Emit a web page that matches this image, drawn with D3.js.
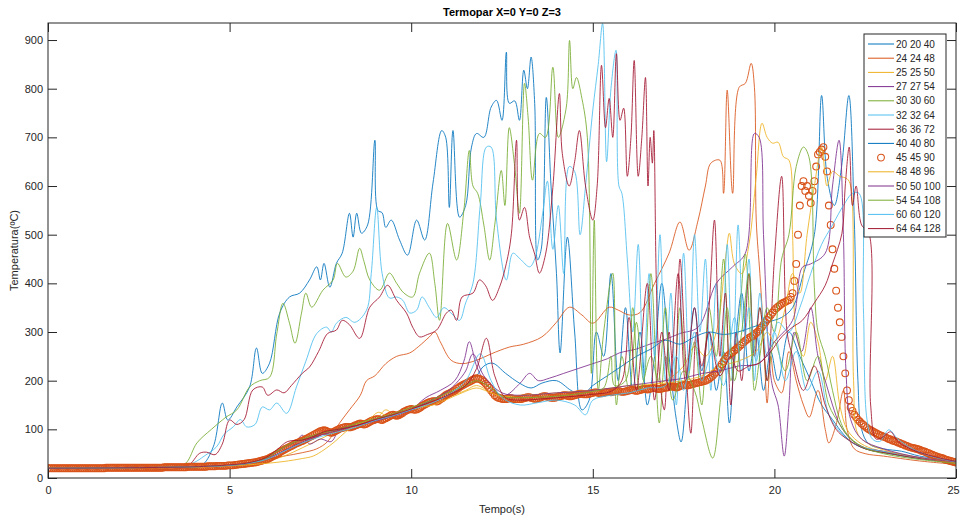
<!DOCTYPE html>
<html>
<head>
<meta charset="utf-8">
<script src="https://cdn.jsdelivr.net/npm/d3@7"></script>
<style>
  body { margin: 0; background: #fff; }
  svg { font-family: "Liberation Sans", Arial, sans-serif; }
</style>
</head>
<body>
<svg id="chart"></svg>
<script>
// legend names, in plotting order
const seriesNames = ["20 20 40", "24 24 48", "25 25 50", "27 27 54", "30 30 60", "32 32 64", "36 36 72",
  "40 40 80", "45 45 90", "48 48 96", "50 50 100", "54 54 108", "60 60 120", "64 64 128"];
const seriesColors = ["#0072BD", "#D95319", "#EDB120", "#7E2F8E", "#77AC30", "#4DBEEE", "#A2142F",
  "#0072BD", "#D95319", "#EDB120", "#7E2F8E", "#77AC30", "#4DBEEE", "#A2142F"];

const xTicks = [0, 5, 10, 15, 20, 25];
const yTicks = [0, 100, 200, 300, 400, 500, 600, 700, 800, 900];

// [tempo (s), temperatura (C)]
const s20 = [[0,20],[2,21],[3.5,22],[4.2,24],[4.55,64],[4.8,154],[4.95,119],[5.2,146],[5.55,187],[5.74,267],[5.9,215],[6.1,236],[6.38,339],[6.65,372],[6.93,380],[7.2,407],[7.4,434],[7.5,407],[7.6,441],[7.76,392],[7.94,441],[8.1,462],[8.3,544],[8.4,495],[8.5,544],[8.63,503],[8.8,520],[9.0,694],[9.08,550],[9.2,545],[9.3,515],[9.45,530],[9.68,489],[9.9,458],[10.15,530],[10.37,489],[10.6,606],[10.84,714],[10.95,700],[11.05,556],[11.15,714],[11.33,536],[11.5,560],[11.66,680],[11.8,708],[12.0,700],[12.2,762],[12.35,776],[12.5,735],[12.62,875],[12.7,770],[12.85,775],[12.98,735],[13.1,838],[13.2,800],[13.3,865],[13.4,770],[13.48,448],[13.58,470],[13.72,782],[13.85,600],[14.0,420],[14.1,257],[14.3,495],[14.5,300],[14.7,140],[14.9,160],[15.1,300],[15.3,250],[15.5,420],[15.7,200],[15.9,350],[16.1,180],[16.3,300],[16.5,150],[16.7,250],[16.9,400],[17.1,250],[17.3,120],[17.43,74],[17.6,200],[17.8,350],[18.0,220],[18.2,300],[18.4,180],[18.6,260],[18.76,113],[18.9,250],[19.1,380],[19.3,220],[19.5,300],[19.7,180],[19.9,260],[20.1,200],[20.4,300],[20.7,250],[21.0,200],[21.3,150],[21.6,120],[21.9,90],[22.2,70],[22.6,58],[23,52],[24,40],[25,32]];

const s24 = [[0,20],[2,21],[4,23],[5,26],[6,38],[6.5,45],[7,52],[7.4,60],[7.7,75],[8,110],[8.3,140],[8.6,170],[8.77,200],[9,210],[9.3,235],[9.6,250],[9.96,257],[10.2,270],[10.5,290],[10.65,300],[10.8,280],[11.1,242],[11.4,235],[11.8,242],[12.2,255],[12.7,269],[13.1,275],[13.6,290],[14.0,320],[14.36,351],[14.7,335],[15.0,318],[15.45,351],[15.7,345],[16.0,335],[16.3,340],[16.7,400],[17.1,462],[17.4,526],[17.65,468],[17.9,530],[18.1,600],[18.25,647],[18.5,653],[18.6,585],[18.7,797],[18.85,585],[19.03,803],[19.2,811],[19.36,852],[19.45,803],[19.5,530],[19.6,420],[19.7,300],[19.8,154],[19.9,250],[20.0,200],[20.2,175],[20.4,260],[20.6,200],[20.8,150],[20.96,125],[21.2,180],[21.4,100],[21.5,72],[21.7,110],[21.9,180],[22.0,100],[22.2,60],[22.5,50],[23,45],[24,35],[25,28]];

const s25 = [[0,20],[2,21],[4,23],[5,26],[5.5,29],[6,34],[6.5,45],[7,62],[7.5,80],[8,98],[8.5,112],[9,118],[9.3,140],[9.6,126],[10,140],[10.5,150],[11,165],[11.5,180],[11.8,190],[12.2,175],[12.6,160],[13,158],[13.5,162],[14,170],[14.5,168],[15,172],[15.5,180],[16,185],[16.5,190],[17,200],[17.5,230],[17.8,270],[18.1,250],[18.4,300],[18.67,462],[18.76,503],[18.9,440],[19.1,420],[19.3,480],[19.5,620],[19.66,729],[19.8,700],[19.95,688],[20.1,690],[20.25,660],[20.4,653],[20.5,500],[20.6,300],[20.8,250],[21.0,320],[21.2,280],[21.4,200],[21.6,250],[21.8,150],[22.0,100],[22.3,75],[22.7,60],[23.5,48],[24.5,35],[25,30]];

const s27 = [[0,20],[2,21],[4,23],[5,26],[5.5,29],[6,36],[6.5,52],[6.8,70],[7,88],[7.2,70],[7.5,80],[7.8,75],[8.1,110],[8.4,100],[8.7,115],[9,112],[9.3,128],[9.6,125],[10,140],[10.4,165],[10.8,180],[11.2,200],[11.45,240],[11.6,280],[11.8,230],[12.0,200],[12.3,175],[12.6,170],[13.0,195],[13.26,215],[13.5,200],[13.8,205],[14.2,215],[14.6,225],[15.0,235],[15.4,245],[15.73,257],[16.2,265],[16.64,277],[17.0,285],[17.4,297],[17.9,310],[18.4,400],[18.85,434],[19.2,462],[19.45,708],[19.58,700],[19.7,500],[19.85,250],[19.95,187],[20.1,150],[20.27,45],[20.4,150],[20.55,300],[20.75,260],[21.0,350],[21.2,250],[21.4,200],[21.6,150],[21.8,110],[22.1,80],[22.5,62],[23,55],[24,42],[25,34]];

const s30 = [[0,20],[2,21],[3.5,23],[3.8,31],[4.1,72],[4.5,100],[4.9,125],[5.2,140],[5.55,187],[5.83,200],[6.1,207],[6.3,297],[6.47,359],[6.65,318],[6.8,277],[6.98,339],[7.1,380],[7.26,351],[7.57,386],[7.85,407],[7.97,441],[8.2,413],[8.4,425],[8.58,472],[8.7,445],[8.86,407],[9.13,386],[9.4,421],[9.6,400],[9.8,380],[10.04,372],[10.23,421],[10.5,462],[10.65,400],[10.78,324],[11.0,523],[11.25,448],[11.45,550],[11.6,673],[11.7,600],[11.83,585],[12.0,520],[12.16,448],[12.3,520],[12.48,632],[12.58,560],[12.7,720],[12.85,640],[12.98,544],[13.12,811],[13.22,740],[13.34,612],[13.53,708],[13.7,700],[13.9,844],[14.05,700],[14.27,762],[14.36,899],[14.45,800],[14.55,823],[14.7,780],[14.85,700],[14.96,215],[15.04,530],[15.15,180],[15.3,300],[15.55,421],[15.65,150],[15.8,250],[16.0,180],[16.2,320],[16.4,200],[16.6,420],[16.83,113],[17.0,250],[17.2,180],[17.4,350],[17.6,200],[17.8,280],[18.0,150],[18.2,350],[18.4,250],[18.6,450],[18.8,200],[19.0,300],[19.2,460],[19.4,250],[19.6,350],[19.8,200],[20.0,280],[20.3,220],[20.6,300],[20.9,200],[21.2,250],[21.5,150],[21.8,110],[22.1,80],[22.5,60],[23.2,50],[24,40],[25,32]];

const s32 = [[0,20],[2,21],[3.5,22],[4.0,31],[4.3,45],[4.64,64],[4.85,90],[5.1,105],[5.3,120],[5.47,105],[5.7,110],[5.9,146],[6.1,140],[6.3,154],[6.57,133],[6.84,187],[7.1,240],[7.4,297],[7.67,310],[7.8,300],[7.94,318],[8.2,330],[8.45,320],[8.77,345],[8.9,420],[9.05,556],[9.2,420],[9.4,370],[9.6,372],[9.77,365],[9.96,339],[10.15,345],[10.3,372],[10.5,350],[10.7,330],[10.9,350],[11.15,335],[11.33,324],[11.5,360],[11.7,400],[11.9,560],[12.07,680],[12.2,680],[12.35,530],[12.62,407],[12.8,462],[13.0,450],[13.26,434],[13.4,450],[13.62,544],[13.75,610],[13.9,470],[14.05,560],[14.2,420],[14.35,640],[14.5,630],[14.65,500],[14.8,600],[15.0,756],[15.15,850],[15.27,934],[15.38,650],[15.5,800],[15.64,879],[15.72,600],[15.8,585],[15.95,450],[16.1,300],[16.25,480],[16.4,200],[16.55,420],[16.7,250],[16.85,500],[17.0,200],[17.15,380],[17.3,150],[17.5,462],[17.65,220],[17.8,500],[17.95,300],[18.1,450],[18.25,180],[18.4,400],[18.55,250],[18.7,480],[18.85,200],[19.0,520],[19.15,300],[19.3,450],[19.45,200],[19.6,380],[19.8,250],[20.0,300],[20.3,200],[20.6,260],[20.9,180],[21.2,220],[21.5,130],[21.8,95],[22.2,70],[22.6,60],[23.2,52],[24,40],[25,30]];

const s36 = [[0,20],[2,21],[3.8,23],[4.18,51],[4.37,53],[4.6,48],[4.8,70],[5.0,119],[5.2,110],[5.4,120],[5.64,181],[5.9,187],[6.05,170],[6.3,181],[6.5,175],[6.7,190],[7.0,215],[7.2,228],[7.45,260],[7.7,297],[7.94,304],[8.1,324],[8.3,315],[8.58,287],[8.86,351],[9.13,372],[9.35,396],[9.6,365],[9.87,339],[10.04,310],[10.23,290],[10.45,295],[10.7,304],[10.97,339],[11.1,345],[11.25,324],[11.4,372],[11.7,380],[11.88,407],[12.05,395],[12.24,365],[12.43,392],[12.62,441],[12.76,503],[12.9,694],[12.98,530],[13.12,556],[13.26,495],[13.4,460],[13.53,421],[13.7,460],[13.9,597],[14.08,790],[14.16,667],[14.35,600],[14.5,650],[14.63,714],[14.8,600],[15.0,530],[15.12,600],[15.24,848],[15.35,720],[15.45,780],[15.55,700],[15.65,872],[15.75,735],[15.85,760],[15.95,620],[16.05,700],[16.14,858],[16.25,620],[16.35,700],[16.45,823],[16.52,600],[16.58,700],[16.64,647],[16.68,714],[16.75,400],[16.85,200],[16.97,140],[17.1,300],[17.25,180],[17.4,450],[17.55,250],[17.7,92],[17.85,300],[18.0,200],[18.2,350],[18.35,530],[18.5,250],[18.65,380],[18.8,150],[18.95,300],[19.1,200],[19.3,420],[19.45,250],[19.6,350],[19.8,200],[20.0,450],[20.2,620],[20.35,300],[20.5,250],[20.8,180],[21.1,230],[21.4,150],[21.7,100],[22.0,80],[22.5,60],[23.2,50],[24,40],[25,32]];

const s40 = [[0,20],[2,21],[2.5,25],[3,22],[4,23],[5,26],[5.5,30],[6,40],[6.4,58],[6.7,70],[7,78],[7.5,90],[8,102],[8.5,110],[9,118],[9.5,128],[10,140],[10.5,155],[11,168],[11.5,190],[11.8,210],[12,230],[12.24,236],[12.6,215],[12.98,195],[13.3,185],[13.6,195],[14,200],[14.4,180],[14.7,170],[15,190],[15.4,210],[15.8,230],[16.2,250],[16.6,265],[17,283],[17.4,275],[17.8,290],[18.2,300],[18.6,295],[19,300],[19.4,310],[19.8,320],[20.2,330],[20.5,350],[20.8,420],[21.1,500],[21.3,786],[21.45,620],[21.65,560],[21.85,640],[22.05,786],[22.2,530],[22.3,200],[22.4,100],[22.6,70],[23,60],[23.5,55],[24,45],[25,35]];

// 45 45 90: sampled every 0.05 s from t = 0 (one row per second)
const circleStep = 0.05;
const s45 = [
  20,20,20,20,20,20,20,20,20,20,20,20,20,20,20,20,20,20,20,20,
  20,20,20,20,20,20,20,20,20,20,20,20,21,21,21,21,21,21,21,21,
  21,21,21,21,21,21,21,21,21,21,21,21,21,21,21,21,21,21,21,21,
  21,21,21,21,22,22,22,22,22,22,22,22,22,22,22,22,22,23,23,23,
  23,23,23,23,23,23,23,23,24,24,24,24,24,25,25,25,25,25,25,26,
  26,26,26,27,27,28,28,29,29,30,30,31,31,32,32,33,34,35,36,37,
  38,39,41,43,45,47,49,51,54,56,58,60,62,64,66,68,70,72,73,75,
  76,78,80,82,84,86,88,90,92,94,96,97,98,97,95,94,93,94,96,98,
  100,102,103,104,105,105,104,105,106,108,109,111,112,111,110,111,113,115,117,119,
  120,121,121,120,119,121,123,125,127,129,130,129,128,129,131,133,136,138,140,141,
  142,141,140,141,143,145,148,150,152,154,156,157,158,158,157,159,162,164,167,170,
  172,174,176,178,180,183,185,188,190,192,194,196,198,200,202,204,205,204,203,201,
  198,194,190,185,180,175,170,167,165,164,163,162,162,163,164,164,163,162,162,162,
  162,163,164,165,166,166,165,164,163,163,164,165,167,168,168,167,166,165,165,165,
  166,167,168,169,170,170,169,168,168,169,170,171,172,173,173,172,172,172,173,174,
  175,176,176,175,174,174,175,176,177,177,176,177,178,179,179,178,177,177,178,179,
  180,181,181,180,179,180,181,182,183,183,182,183,184,185,185,184,183,183,184,185,
  186,186,187,188,188,187,186,187,189,190,191,191,190,191,192,193,194,195,196,197,
  198,199,200,202,204,207,210,214,218,223,228,234,240,245,250,253,256,259,262,265,
  268,272,275,279,282,285,288,290,292,295,298,301,305,310,315,320,325,330,335,340,
  345,349,352,355,358,360,362,364,366,372,380,405,440,500,560,600,610,590,600,580,
  565,590,610,640,665,670,675,680,660,630,560,520,470,430,385,350,320,290,250,215,
  180,160,145,138,130,125,120,116,112,109,106,103,100,98,96,94,92,90,88,87,
  85,84,82,80,79,77,76,75,73,72,70,69,67,66,64,63,62,61,60,59,
  58,56,55,54,52,51,49,48,46,45,43,42,41,40,38,37,36,35,34,33,
  32];

const s48 = [[0,20],[2,21],[4,22],[5,25],[5.5,27],[6,30],[6.5,34],[7,40],[7.3,45],[7.6,58],[7.9,75],[8.2,95],[8.5,110],[8.8,118],[9.1,135],[9.4,125],[9.8,138],[10.2,145],[10.6,150],[11,162],[11.4,175],[11.8,185],[12.1,178],[12.5,168],[13,170],[13.5,172],[14,175],[14.5,178],[15,180],[15.5,185],[16,190],[16.5,192],[17,195],[17.5,200],[18,210],[18.5,230],[19,240],[19.5,260],[19.8,300],[20.0,280],[20.3,350],[20.5,420],[20.7,380],[20.9,500],[21.1,600],[21.3,680],[21.45,600],[21.6,630],[21.8,620],[22.0,615],[22.1,600],[22.18,200],[22.3,90],[22.6,70],[23,58],[24,42],[25,32]];

const s50 = [[0,20],[2,21],[4,23],[5,26],[5.5,30],[6,39],[6.5,56],[7,74],[7.5,88],[8,98],[8.5,108],[9,117],[9.5,127],[10,140],[10.5,158],[11,178],[11.3,200],[11.5,220],[11.7,255],[12,210],[12.5,175],[13,170],[14,175],[15,180],[16,190],[17,200],[17.5,205],[18,215],[18.5,220],[19,230],[19.58,236],[20,280],[20.5,324],[20.77,433],[21.0,440],[21.4,462],[21.6,600],[21.78,694],[21.9,500],[21.97,222],[22.1,120],[22.4,80],[23,60],[24,42],[25,33]];

const s54 = [[0,20],[2,21],[4,23],[5,26],[5.5,30],[6,40],[6.3,55],[6.6,68],[7,80],[7.5,92],[8,100],[8.5,112],[9,122],[9.5,132],[10,145],[10.5,158],[11,175],[11.5,190],[11.8,200],[12.1,190],[12.5,168],[13,165],[13.5,166],[14,168],[14.5,172],[15,178],[15.3,185],[15.5,250],[15.6,190],[15.9,200],[16.1,350],[16.3,180],[16.6,250],[16.8,200],[17.0,350],[17.2,160],[17.5,220],[17.8,180],[18.0,120],[18.3,41],[18.5,150],[18.7,350],[18.9,200],[19.1,300],[19.3,420],[19.45,180],[19.6,250],[19.8,350],[20.0,300],[20.2,450],[20.4,500],[20.6,640],[20.8,680],[20.95,660],[21.1,392],[21.2,300],[21.4,250],[21.6,180],[21.8,120],[22.0,90],[22.4,65],[23,50],[24,38],[25,30]];

const s60 = [[0,20],[2,21],[4,23],[5,26],[5.5,30],[6,38],[6.5,55],[7,72],[7.5,85],[8,95],[8.5,105],[9,118],[9.5,128],[10,140],[10.5,152],[11,170],[11.5,200],[11.9,255],[12.2,200],[12.5,165],[13,150],[13.5,155],[14,160],[14.5,150],[14.8,130],[15.0,160],[15.5,170],[16,175],[16.5,185],[17,190],[17.3,250],[17.5,180],[17.8,300],[18.0,200],[18.3,260],[18.6,190],[18.9,330],[19.1,220],[19.3,350],[19.5,240],[19.7,330],[19.9,270],[20.1,320],[20.4,300],[20.7,350],[21.0,420],[21.3,480],[21.6,520],[21.9,560],[22.15,585],[22.33,585],[22.45,350],[22.55,120],[22.7,80],[22.9,75],[23.15,99],[23.4,80],[23.8,60],[24.3,45],[25,33]];

const s64 = [[0,20],[2,21],[4,23],[5,27],[5.5,31],[6,42],[6.3,58],[6.6,75],[7,78],[7.3,85],[7.6,95],[8,100],[8.5,108],[9,120],[9.5,130],[10,142],[10.5,155],[11,170],[11.5,190],[11.8,225],[12.07,287],[12.3,210],[12.6,165],[13,160],[13.5,162],[14,165],[14.5,168],[15,172],[15.5,178],[15.8,200],[16.0,330],[16.2,180],[16.5,400],[16.7,160],[16.9,300],[17.1,180],[17.35,420],[17.55,200],[17.8,350],[18.0,230],[18.2,300],[18.5,210],[18.8,250],[19.0,220],[19.3,230],[19.58,236],[19.9,260],[20.2,290],[20.5,310],[20.77,324],[21.1,360],[21.4,396],[21.6,440],[21.86,503],[21.95,600],[22.06,680],[22.15,560],[22.25,600],[22.4,520],[22.6,503],[22.65,150],[22.8,80],[23.0,85],[23.2,95],[23.4,75],[23.8,58],[24.5,42],[25,34]];

const lineSeries = [s20, s24, s25, s27, s30, s32, s36, s40, null, s48, s50, s54, s60, s64];

const svgWidth = 961, svgHeight = 520;
const plotLeft = 48, plotRight = 956, plotTop = 23, plotBottom = 478;

const svg = d3.select("#chart").attr("width", svgWidth).attr("height", svgHeight);

const x = d3.scaleLinear().domain([0, 25]).range([plotLeft, plotRight]);
const y = d3.scaleLinear().domain([0, 935]).range([plotBottom, plotTop]);

svg.append("clipPath").attr("id", "plotclip")
  .append("rect").attr("x", plotLeft).attr("y", plotTop)
  .attr("width", plotRight - plotLeft).attr("height", plotBottom - plotTop);

let plot = svg.append("g").attr("clip-path", "url(#plotclip)");

let line = d3.line()
  .x(d => x(d[0]))
  .y(d => y(d[1]))
  .curve(d3.curveCatmullRom.alpha(0.5));

lineSeries.forEach(function(data, i) {
  if (data === null) {
    // circle markers only
    plot.append("g").selectAll("circle")
      .data(s45).enter().append("circle")
      .attr("cx", (d, j) => x(j * circleStep))
      .attr("cy", d => y(d))
      .attr("r", 3.4)
      .attr("fill", "none")
      .attr("stroke", seriesColors[i])
      .attr("stroke-width", 1.1);
  } else {
    plot.append("path")
      .attr("fill", "none")
      .attr("stroke", seriesColors[i])
      .attr("stroke-opacity", 0.85)
      .attr("stroke-width", 1)
      .attr("d", line(data));
  }
});

// axes with inward ticks on all four sides
const axisColor = "#262626";
let axBottom = svg.append("g").attr("transform", "translate(0," + plotBottom + ")")
  .call(d3.axisBottom(x).tickValues(xTicks).tickSizeInner(-9).tickSizeOuter(0).tickPadding(8));
let axLeft = svg.append("g").attr("transform", "translate(" + plotLeft + ",0)")
  .call(d3.axisLeft(y).tickValues(yTicks).tickSizeInner(-9).tickSizeOuter(0).tickPadding(5));
let axTop = svg.append("g").attr("transform", "translate(0," + plotTop + ")")
  .call(d3.axisTop(x).tickValues(xTicks).tickSizeInner(-9).tickSizeOuter(0).tickFormat(""));
let axRight = svg.append("g").attr("transform", "translate(" + plotRight + ",0)")
  .call(d3.axisRight(y).tickValues(yTicks).tickSizeInner(-9).tickSizeOuter(0).tickFormat(""));

[axBottom, axLeft, axTop, axRight].forEach(function(g) {
  g.select(".domain").remove();
  g.selectAll("line").attr("stroke", axisColor);
  g.selectAll("text").attr("fill", axisColor).style("font-size", "11px");
});
// keep the last x label inside the window
axBottom.selectAll(".tick text").filter(d => d === 25).attr("dx", "-3");

svg.append("rect")
  .attr("x", plotLeft).attr("y", plotTop)
  .attr("width", plotRight - plotLeft).attr("height", plotBottom - plotTop)
  .attr("fill", "none").attr("stroke", axisColor).attr("stroke-width", 1);

// titles
svg.append("text")
  .attr("x", (plotLeft + plotRight) / 2).attr("y", 16)
  .attr("text-anchor", "middle")
  .style("font-size", "11px").style("font-weight", "bold")
  .attr("fill", "#000")
  .text("Termopar X=0 Y=0 Z=3");

svg.append("text")
  .attr("x", (plotLeft + plotRight) / 2).attr("y", 513)
  .attr("text-anchor", "middle")
  .style("font-size", "11px")
  .attr("fill", axisColor)
  .text("Tempo(s)");

svg.append("text")
  .attr("transform", "translate(18," + ((plotTop + plotBottom) / 2) + ") rotate(-90)")
  .attr("text-anchor", "middle")
  .style("font-size", "11px")
  .attr("fill", axisColor)
  .text("Temperatura(ºC)");

// legend
let legend = svg.append("g").attr("transform", "translate(864,34)");
legend.append("rect")
  .attr("width", 82).attr("height", 203)
  .attr("fill", "#fff").attr("stroke", axisColor).attr("stroke-width", 1);

seriesNames.forEach(function(name, i) {
  let row = legend.append("g").attr("transform", "translate(0," + (10 + i * 14.2) + ")");
  if (lineSeries[i] === null) {
    row.append("circle").attr("cx", 17).attr("cy", 0).attr("r", 3.4)
      .attr("fill", "none").attr("stroke", seriesColors[i]).attr("stroke-width", 1.1);
  } else {
    row.append("line").attr("x1", 4).attr("x2", 30).attr("y1", 0).attr("y2", 0)
      .attr("stroke", seriesColors[i]).attr("stroke-width", 1);
  }
  row.append("text").attr("x", 32).attr("y", 0).attr("dy", "0.35em")
    .style("font-size", "10px").attr("fill", axisColor)
    .text(name);
});
</script>
</body>
</html>
